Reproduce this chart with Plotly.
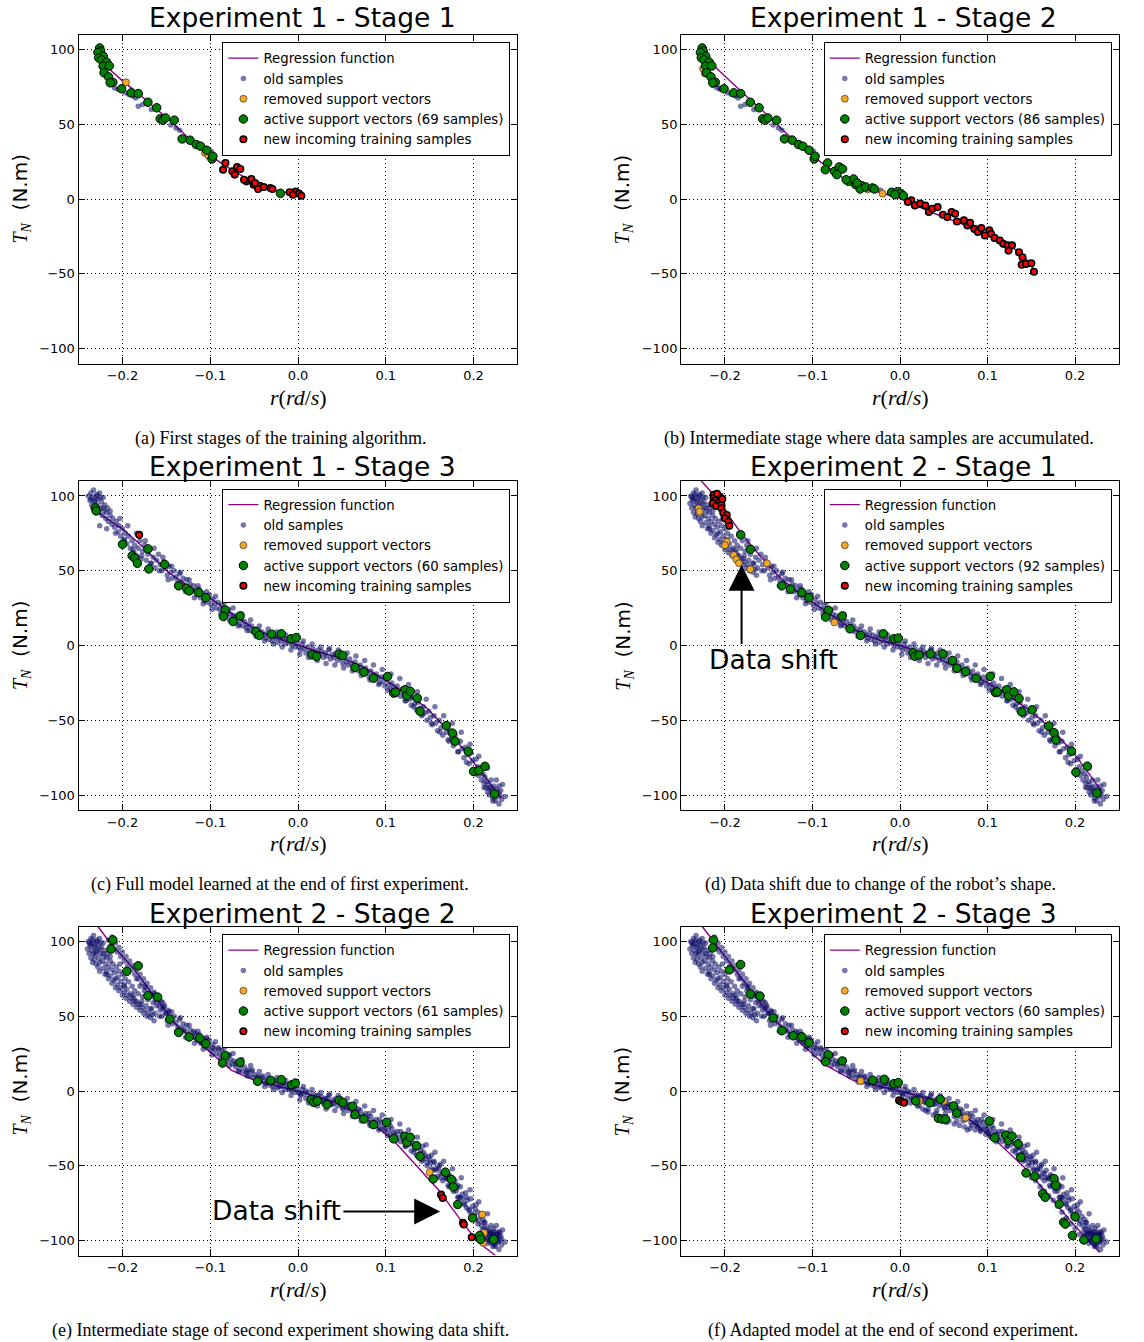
import plotly.graph_objects as go

W, H = 1144, 1342

# ---------------- DATA ----------------
TITLES = ["Experiment 1 - Stage 1", "Experiment 1 - Stage 2", "Experiment 1 - Stage 3",
          "Experiment 2 - Stage 1", "Experiment 2 - Stage 2", "Experiment 2 - Stage 3"]
CAPTIONS = ["(a) First stages of the training algorithm.",
            "(b) Intermediate stage where data samples are accumulated.",
            "(c) Full model learned at the end of first experiment.",
            "(d) Data shift due to change of the robot\u2019s shape.",
            "(e) Intermediate stage of second experiment showing data shift.",
            "(f) Adapted model at the end of second experiment."]
SV_COUNTS = [69, 86, 60, 92, 61, 60]
X_TICKS = [-0.2, -0.1, 0.0, 0.1, 0.2]
Y_TICKS = [-100, -50, 0, 50, 100]

# regression functions
A_LINE_X = [-0.228, -0.215, -0.2, -0.186, -0.165, -0.147, -0.125, -0.101, -0.085, -0.07, -0.055, -0.039, -0.02, 0.003]
A_LINE_Y = [95, 87, 79, 72.5, 62, 53, 41, 29.5, 23, 17.5, 12.5, 8.5, 5, 3]
B_LINE_X = [-0.227, -0.2, -0.178, -0.156, -0.124, -0.096, -0.064, -0.025, 0, 0.035, 0.075, 0.114, 0.13, 0.142, 0.154]
B_LINE_Y = [97, 82, 70, 58.5, 40.6, 27, 13.7, 4.7, 0.5, -8.7, -17.7, -27.8, -33, -38.5, -48]
C_LINE_X = [-0.236, -0.22, -0.2, -0.175, -0.148, -0.12, -0.097, -0.075, -0.051, -0.025, 0, 0.025, 0.055, 0.075,
            0.093, 0.11, 0.131, 0.147, 0.162, 0.175, 0.188, 0.2, 0.207, 0.22, 0.232]
C_LINE_Y = [92, 86, 78, 65, 49, 38, 30.5, 21, 11.6, 5, 0, -4.5, -9.6, -14.5, -20.7, -27, -35, -42, -51, -59.5,
            -69, -78, -84, -93, -102]
D_LINE_X = [-0.227, -0.21, -0.2, -0.19, -0.18, -0.16, -0.14, -0.12, -0.1, -0.08, -0.06, -0.04, -0.02, 0, 0.02,
            0.04, 0.06, 0.08, 0.1, 0.12, 0.14, 0.16, 0.18, 0.2, 0.215, 0.23]
D_LINE_Y = [110, 99, 90, 82, 74, 60, 47, 37, 29, 21, 13, 7, 3, 0, -4, -8, -13, -19, -25, -32, -40, -49, -60,
            -73, -85, -97]
E_LINE_X = [-0.228, -0.214, -0.2, -0.186, -0.161, -0.137, -0.112, -0.076, -0.047, 0, 0.046, 0.083, 0.107, 0.132,
            0.16, 0.185, 0.205, 0.225]
E_LINE_Y = [110, 99, 90, 81, 61, 43, 32, 14, 6.5, 0, -8, -21, -32, -48, -66, -86, -101, -110]
F_LINE_X = [-0.226, -0.213, -0.2, -0.175, -0.148, -0.125, -0.087, -0.053, 0, 0.047, 0.077, 0.111, 0.142, 0.169,
            0.195, 0.228]
F_LINE_Y = [110, 100, 90, 71, 50, 38, 18, 7, 0, -7, -18, -34, -51, -69, -87, -108]

# panel (a)
A_GREEN = [(-0.226, 101), (-0.225, 99), (-0.228, 98), (-0.222, 95.5), (-0.227, 94.4), (-0.224, 93), (-0.218, 91.5),
           (-0.222, 88.8), (-0.215, 89), (-0.221, 84.4), (-0.216, 81.7), (-0.211, 78), (-0.214, 77.7),
           (-0.201, 73.7), (-0.19, 71), (-0.182, 70.5), (-0.171, 64.7), (-0.161, 61), (-0.157, 53.6),
           (-0.154, 52.7), (-0.151, 54.2), (-0.141, 52.7), (-0.132, 40.2), (-0.123, 39.3), (-0.116, 36.4),
           (-0.111, 35.3), (-0.104, 32.6), (-0.098, 26.8), (-0.097, 28.6), (-0.020, 3.8)]
A_RED = [(-0.0827, 24.1), (-0.0854, 19.6), (-0.0748, 18.5), (-0.0694, 21.4), (-0.0657, 20.1), (-0.0721, 16.3),
         (-0.0588, 11.8), (-0.0531, 13.4), (-0.0505, 9.6), (-0.0436, 8.9), (-0.0455, 6.7), (-0.0391, 8.0),
         (-0.0315, 7.4), (-0.0292, 6.7), (-0.0095, 4.5), (-0.0027, 4.9), (0.0011, 3.6), (0.0038, 2.2),
         (-0.0057, 2.9), (-0.0615, 12.9), (-0.049, 10.7)]
A_ORANGE = [(-0.196, 78), (-0.106, 30.8), (-0.102, 29)]
A_OLD = [(-0.209, 74.3), (-0.205, 73.2), (-0.197, 71), (-0.188, 68.8), (-0.182, 62), (-0.177, 63.2),
         (-0.167, 59.8), (-0.139, 47.5), (-0.135, 46), (-0.118, 37.5), (-0.099, 31.9), (-0.193, 70),
         (-0.185, 67.5), (-0.145, 49.5)]

# panel (b)
B_RED = [(0.013, -0.9), (0.009, -2), (0.017, -4.3), (0.023, -3.1), (0.029, -4.3), (0.033, -8.7), (0.037, -6.5),
         (0.043, -5.4), (0.049, -10.5), (0.054, -12.1), (0.059, -8.7), (0.063, -9.9), (0.065, -15),
         (0.073, -14.3), (0.077, -17.7), (0.080, -15.9), (0.085, -20), (0.089, -22), (0.093, -19.5),
         (0.097, -24.4), (0.102, -21), (0.104, -23.3), (0.108, -26), (0.114, -27.8), (0.118, -30),
         (0.123, -31), (0.128, -31), (0.124, -34.5), (0.136, -35.6), (0.140, -39), (0.139, -44),
         (0.144, -43.5), (0.150, -43), (0.153, -48.6)]
B_ORANGE = [(-0.225, 87.3), (-0.223, 84), (-0.213, 76.6), (-0.124, 40), (-0.037, 6.5), (-0.020, 3.6)]
B_OLD_EXTRA = [(-0.053, 9.2), (-0.043, 8), (-0.030, 6.9), (-0.022, 5.8), (-0.007, 4.7), (0.003, 2),
               (-0.012, 4.0), (0.006, 1.2), (-0.206, 74.3), (-0.171, 63.8)]

# panel (c)
C_GREEN = [(-0.231, 92), (-0.230, 90), (-0.2, 67.7), (-0.189, 60), (-0.186, 58.4), (-0.183, 55), (-0.171, 64.6),
           (-0.170, 51.2), (-0.152, 54.3), (-0.136, 39.9), (-0.127, 38.3), (-0.124, 36.5), (-0.113, 35.4),
           (-0.105, 32), (-0.083, 23.8), (-0.085, 19.4), (-0.074, 16), (-0.066, 19.8), (-0.048, 9.4),
           (-0.044, 6.7), (-0.030, 7.6), (-0.019, 7.8), (-0.008, 4.5), (-0.002, 5.3), (0.016, -6.2),
           (0.021, -7.3), (0.047, -5.8), (0.051, -6.7), (0.065, -14.7), (0.075, -17.8), (0.086, -21.8),
           (0.102, -20.7), (0.109, -31.8), (0.111, -31.2), (0.122, -29.6), (0.124, -33.6), (0.128, -30.7),
           (0.136, -35.2), (0.139, -44), (0.169, -53.5), (0.176, -58.6), (0.179, -64), (0.194, -70.8),
           (0.200, -84.2), (0.206, -83.7), (0.213, -80.8), (0.224, -99.3)]
C_RED = [(-0.181, 74)]
C_ORANGE = []

# panel (d)
D_GREEN = [(-0.182, 74), (-0.171, 64.3), (-0.135, 39.9), (-0.125, 37.7), (-0.112, 35.4), (-0.104, 32),
           (-0.082, 23.5), (-0.085, 19), (-0.066, 19.7), (-0.057, 11.2), (-0.045, 6.7), (-0.019, 7.8),
           (-0.007, 4.5), (-0.002, 4.9), (0.015, -4.9), (0.017, -7.2), (0.022, -6.3), (0.035, -5.6),
           (0.049, -5.6), (0.060, -10), (0.065, -15.2), (0.075, -17.5), (0.087, -22), (0.103, -20.6),
           (0.109, -31.4), (0.111, -31), (0.122, -29.6), (0.124, -33.6), (0.130, -31), (0.136, -35.4),
           (0.139, -44.4), (0.151, -43), (0.170, -53.8), (0.176, -58.3), (0.178, -63.2), (0.196, -70.6),
           (0.201, -84.8), (0.214, -80.7), (0.225, -98.7)]
D_ORANGE = [(-0.230, 91.7), (-0.229, 89.5), (-0.198, 69.4), (-0.200, 67), (-0.190, 60.5), (-0.187, 57.6),
            (-0.184, 55), (-0.171, 51), (-0.152, 55), (-0.075, 15.5)]
D_RED = [(-0.213, 100.7), (-0.206, 99.6), (-0.208, 99.5), (-0.213, 98.4), (-0.211, 96.9), (-0.214, 95),
         (-0.206, 96.2), (-0.210, 93.3), (-0.204, 94), (-0.204, 91.7), (-0.202, 88.8), (-0.198, 87.3),
         (-0.200, 85), (-0.196, 82.8), (-0.195, 80), (-0.209, 101.5), (-0.203, 98)]

# panel (e)
E_GREEN = [(-0.211, 101), (-0.213, 94.9), (-0.195, 80), (-0.182, 83.7), (-0.171, 63.7), (-0.160, 62.8),
           (-0.146, 48.1), (-0.136, 39.2), (-0.124, 36.1), (-0.112, 35.4), (-0.105, 31.6), (-0.083, 23.8),
           (-0.086, 18.7), (-0.066, 19.2), (-0.046, 6.5), (-0.031, 7.1), (-0.019, 7.6), (-0.007, 4.2),
           (-0.003, 5.3), (0.015, -5.8), (0.018, -7.6), (0.022, -6.7), (0.033, -9.1), (0.047, -6.2),
           (0.051, -7.6), (0.062, -10.2), (0.065, -15.8), (0.075, -18.7), (0.086, -22.5), (0.101, -20.9),
           (0.109, -32), (0.122, -30.3), (0.124, -34.3), (0.128, -31), (0.135, -36.5), (0.139, -43.7),
           (0.154, -58.8), (0.168, -54.3), (0.175, -59.2), (0.177, -64.1), (0.182, -75.9), (0.199, -84.9),
           (0.207, -96.7), (0.208, -99.3), (0.223, -99.3)]
E_ORANGE = [(0.150, -54.3), (0.210, -82.6), (0.212, -94.9), (0.210, -100.4), (0.211, -101.6)]
E_RED = [(0.163, -69.3), (0.165, -71.5), (0.188, -88.2), (0.189, -89.3), (0.198, -97.8)]

# panel (f)
F_GREEN = [(-0.213, 101), (-0.214, 95.7), (-0.195, 81), (-0.182, 84.6), (-0.171, 64.9), (-0.160, 63.5),
           (-0.145, 48.8), (-0.135, 40.3), (-0.122, 36.9), (-0.112, 36.2), (-0.104, 32.2), (-0.082, 24.2),
           (-0.085, 19.5), (-0.066, 20.1), (-0.031, 7.2), (-0.018, 7.8), (-0.007, 4.9), (-0.002, 5.6),
           (0.018, -6.7), (0.034, -7.8), (0.046, -5.6), (0.044, -18.3), (0.048, -18.8), (0.052, -18.8),
           (0.061, -10), (0.065, -14.8), (0.102, -20.1), (0.108, -31.3), (0.121, -29.5), (0.124, -33.1),
           (0.128, -30.2), (0.135, -35.3), (0.138, -44.3), (0.144, -54.8), (0.154, -57), (0.163, -68.7),
           (0.166, -71.1), (0.176, -58.6), (0.178, -63.1), (0.182, -75.6), (0.187, -87.7), (0.189, -89),
           (0.200, -84.1), (0.197, -96.6), (0.210, -99.6), (0.224, -98.9)]
F_ORANGE = [(-0.045, 6.7), (0.022, -6.7), (0.050, -6.7), (0.075, -17.9)]
F_RED = [(-0.001, -6.3), (0.0015, -7.2), (0.0046, -7.8)]

# old samples of experiment 1 (full run): core of the band
E1_OLD = [
    (-0.239, 100), (-0.237, 97), (-0.236, 102), (-0.235, 94), (-0.234, 99), (-0.233, 104), (-0.232, 96),
    (-0.231, 91), (-0.230, 100), (-0.229, 94), (-0.228, 98), (-0.227, 89), (-0.226, 102), (-0.225, 92),
    (-0.224, 96), (-0.223, 87), (-0.222, 99), (-0.221, 90), (-0.220, 94), (-0.219, 85), (-0.218, 89),
    (-0.217, 92), (-0.216, 83), (-0.233, 92), (-0.229, 101), (-0.225, 99), (-0.236, 98), (-0.231, 97),
    (-0.214, 87), (-0.212, 81), (-0.211, 85), (-0.209, 79), (-0.207, 83), (-0.205, 76), (-0.204, 80),
    (-0.202, 73), (-0.200, 78), (-0.198, 71), (-0.197, 75), (-0.195, 68), (-0.193, 73), (-0.191, 65),
    (-0.189, 70), (-0.187, 62), (-0.186, 67), (-0.184, 60), (-0.182, 65), (-0.180, 70), (-0.179, 58),
    (-0.177, 63), (-0.175, 67), (-0.173, 57), (-0.171, 61), (-0.169, 64), (-0.167, 55), (-0.165, 59),
    (-0.163, 52), (-0.161, 57), (-0.159, 61), (-0.157, 54), (-0.155, 50), (-0.153, 56), (-0.151, 52),
    (-0.149, 47), (-0.147, 53), (-0.145, 49), (-0.143, 45), (-0.141, 50),
    (-0.139, 46), (-0.137, 43), (-0.135, 48), (-0.133, 42), (-0.131, 45), (-0.129, 40), (-0.127, 44),
    (-0.125, 38), (-0.123, 41), (-0.121, 36), (-0.119, 40), (-0.117, 37), (-0.115, 34), (-0.113, 38),
    (-0.111, 32), (-0.109, 35), (-0.107, 30), (-0.105, 33), (-0.103, 29), (-0.101, 34), (-0.099, 27),
    (-0.097, 31), (-0.095, 28), (-0.093, 25), (-0.091, 29), (-0.089, 24), (-0.087, 27), (-0.085, 22),
    (-0.083, 25), (-0.081, 20), (-0.079, 24),
    (-0.077, 21), (-0.075, 18), (-0.073, 20), (-0.071, 16), (-0.069, 19), (-0.067, 14), (-0.065, 17),
    (-0.063, 13), (-0.061, 16), (-0.059, 12), (-0.057, 14), (-0.055, 10), (-0.053, 13), (-0.051, 9),
    (-0.049, 11), (-0.047, 7), (-0.045, 10), (-0.043, 6), (-0.041, 9), (-0.039, 7), (-0.037, 5),
    (-0.035, 8), (-0.033, 4), (-0.031, 7), (-0.029, 3), (-0.027, 6), (-0.025, 5), (-0.023, 2),
    (-0.021, 6), (-0.019, 3), (-0.017, 5), (-0.015, 1), (-0.013, 4), (-0.011, 2), (-0.009, 5),
    (-0.007, 0), (-0.005, 3), (-0.003, -1), (-0.001, 2),
    (0.001, -1), (0.003, -3), (0.005, 1), (0.007, -2), (0.009, -5), (0.011, -1), (0.013, -4), (0.015, -6),
    (0.017, -2), (0.019, -5), (0.021, -7), (0.023, -3), (0.025, -6), (0.027, -4), (0.029, -8), (0.031, -5),
    (0.033, -7), (0.035, -3), (0.037, -9), (0.039, -6), (0.041, -8), (0.043, -5), (0.045, -10),
    (0.047, -7), (0.049, -9), (0.051, -12), (0.053, -8), (0.055, -11), (0.057, -13), (0.059, -9),
    (0.061, -12), (0.063, -15), (0.065, -11), (0.067, -14), (0.069, -17), (0.071, -13), (0.073, -16),
    (0.075, -19), (0.077, -15), (0.079, -18), (0.081, -21), (0.083, -17), (0.085, -20), (0.087, -23),
    (0.089, -19), (0.091, -22), (0.093, -25), (0.095, -21), (0.097, -24), (0.099, -27),
    (0.101, -22), (0.103, -26), (0.105, -29), (0.107, -25), (0.109, -28), (0.111, -32), (0.113, -27),
    (0.115, -31), (0.117, -34), (0.119, -29), (0.121, -33), (0.123, -37), (0.125, -32), (0.127, -36),
    (0.129, -40), (0.131, -35), (0.133, -39), (0.135, -43), (0.137, -38), (0.139, -42), (0.141, -47),
    (0.143, -41), (0.145, -45), (0.147, -50), (0.149, -44), (0.151, -48), (0.153, -53), (0.155, -47),
    (0.157, -52), (0.159, -57), (0.161, -50), (0.163, -55), (0.165, -60), (0.167, -53), (0.169, -58),
    (0.171, -63), (0.173, -57), (0.175, -62), (0.177, -67), (0.179, -60), (0.181, -65), (0.183, -71),
    (0.185, -64), (0.187, -69), (0.189, -75), (0.191, -68), (0.193, -73), (0.195, -79), (0.197, -72),
    (0.199, -77),
    (0.201, -83), (0.203, -76), (0.205, -81), (0.206, -87), (0.208, -84), (0.209, -90), (0.211, -86),
    (0.212, -92), (0.213, -88), (0.214, -95), (0.215, -91), (0.216, -98), (0.217, -93), (0.218, -100),
    (0.219, -95), (0.220, -90), (0.221, -97), (0.222, -102), (0.223, -94), (0.224, -99), (0.225, -104),
    (0.226, -96), (0.227, -101), (0.228, -98), (0.229, -94), (0.230, -100), (0.231, -97), (0.232, -103),
    (0.218, -96), (0.222, -99)]
# old samples of experiment 1: outer edges of the band
E1_OLD_WIDE = [
    (-0.226, 80), (-0.222, 92), (-0.218, 78), (-0.214, 90), (-0.208, 75), (-0.203, 85), (-0.198, 70),
    (-0.194, 80), (-0.188, 64), (-0.184, 75), (-0.178, 60), (-0.174, 70), (-0.168, 55), (-0.164, 65),
    (-0.158, 50), (-0.154, 59), (-0.148, 44), (-0.144, 53), (-0.138, 40), (-0.134, 49), (-0.128, 36),
    (-0.124, 44), (-0.118, 32), (-0.114, 40), (-0.108, 28), (-0.104, 36), (-0.098, 24), (-0.094, 33),
    (-0.088, 21), (-0.084, 29), (-0.078, 17), (-0.074, 25), (-0.068, 13), (-0.064, 21), (-0.058, 10),
    (-0.054, 17), (-0.048, 6), (-0.044, 13), (-0.038, 3), (-0.034, 11), (-0.028, 1), (-0.024, 9),
    (-0.018, -1), (-0.014, 7), (-0.008, -3), (-0.004, 5), (0.002, -6), (0.006, 3), (0.012, -8), (0.016, 1),
    (0.022, -10), (0.026, -1), (0.032, -12), (0.036, -2), (0.042, -13), (0.046, -3), (0.052, -15),
    (0.056, -5), (0.062, -17), (0.066, -7), (0.072, -20), (0.076, -10), (0.082, -23), (0.086, -13),
    (0.092, -26), (0.096, -16), (0.102, -30), (0.106, -19), (0.112, -33), (0.116, -22), (0.122, -37),
    (0.126, -26), (0.132, -41), (0.136, -31), (0.142, -46), (0.146, -36), (0.152, -52), (0.156, -41),
    (0.162, -58), (0.166, -47), (0.172, -64), (0.176, -52), (0.182, -71), (0.186, -58), (0.192, -78),
    (0.196, -66), (0.202, -86), (0.206, -74), (0.212, -95), (0.216, -82), (0.222, -104), (0.226, -90),
    (0.229, -106), (0.233, -93), (0.236, -101)]

# experiment 2 samples: lower branch at top-left
X2_LOW = [(-0.222, 82), (-0.220, 78), (-0.218, 80), (-0.216, 75), (-0.214, 77), (-0.212, 72), (-0.210, 74),
          (-0.208, 69), (-0.206, 71), (-0.204, 67), (-0.202, 69), (-0.200, 64), (-0.198, 66), (-0.196, 62),
          (-0.194, 64), (-0.192, 60), (-0.190, 62), (-0.188, 58), (-0.186, 60), (-0.184, 56), (-0.182, 58),
          (-0.180, 54), (-0.178, 56), (-0.176, 52), (-0.174, 54), (-0.172, 50), (-0.170, 52), (-0.168, 49),
          (-0.166, 51), (-0.164, 47),
          (-0.240, 95), (-0.238, 92), (-0.236, 89), (-0.234, 86), (-0.232, 88), (-0.230, 85), (-0.228, 83),
          (-0.226, 86), (-0.238, 99), (-0.234, 101), (-0.230, 93), (-0.226, 95)]
# experiment 2 samples: upper (shifted) branch at top-left
X2_UP = [(-0.216, 101), (-0.214, 97), (-0.212, 103), (-0.210, 95), (-0.208, 99), (-0.206, 93), (-0.204, 96),
         (-0.202, 90), (-0.200, 93), (-0.198, 87), (-0.196, 90), (-0.194, 84), (-0.192, 87), (-0.190, 81),
         (-0.188, 84), (-0.186, 78), (-0.184, 81), (-0.182, 75), (-0.180, 78), (-0.178, 72), (-0.176, 75),
         (-0.174, 69), (-0.172, 72), (-0.170, 66), (-0.168, 69), (-0.166, 63), (-0.164, 66), (-0.162, 60),
         (-0.160, 63), (-0.158, 57), (-0.156, 60), (-0.154, 55), (-0.152, 57), (-0.150, 52), (-0.148, 54),
         (-0.146, 49)]
# experiment 2 samples: along the middle and the bottom-right
X2_MAIN = [(-0.13, 41), (-0.125, 37), (-0.118, 39), (-0.11, 33), (-0.104, 35), (-0.097, 29), (-0.09, 28),
           (-0.084, 23), (-0.078, 24), (-0.071, 18), (-0.065, 19), (-0.058, 13), (-0.052, 14), (-0.046, 9),
           (-0.04, 10), (-0.034, 6), (-0.028, 7), (-0.022, 3), (-0.016, 5), (-0.01, 1), (-0.004, 3),
           (0.003, -2), (0.009, 0), (0.015, -5), (0.021, -3), (0.027, -7), (0.033, -5), (0.039, -9),
           (0.045, -7), (0.051, -11), (0.057, -9), (0.063, -14), (0.069, -12), (0.075, -17), (0.081, -15),
           (0.087, -21), (0.093, -19), (0.099, -25), (0.105, -23), (0.111, -29), (0.117, -27), (0.123, -33),
           (0.129, -31), (0.135, -38),
           (0.140, -40), (0.145, -43), (0.150, -46), (0.155, -48), (0.160, -52), (0.165, -55), (0.170, -59),
           (0.175, -63), (0.180, -67), (0.185, -71), (0.190, -76), (0.195, -80), (0.200, -85), (0.205, -89),
           (0.210, -93), (0.215, -95), (0.220, -98), (0.225, -100), (0.228, -96), (0.142, -37), (0.152, -43),
           (0.162, -49), (0.172, -56), (0.182, -63), (0.192, -71), (0.202, -79), (0.212, -88), (0.222, -95),
           (0.147, -48), (0.157, -53), (0.167, -58), (0.177, -65), (0.187, -72), (0.197, -82),
           (0.210, -97), (0.212, -100), (0.214, -96), (0.216, -102), (0.218, -94), (0.220, -99),
           (0.222, -96), (0.224, -103), (0.226, -98), (0.228, -101), (0.230, -95), (0.232, -99),
           (0.215, -99), (0.219, -101), (0.223, -92), (0.227, -95)]
# experiment 2 late samples (only in the last stage)
X3_OLD = [(0.020, -10), (0.026, -12), (0.032, -14), (0.038, -16), (0.044, -18), (0.050, -19), (0.056, -20),
          (0.062, -22), (0.068, -23), (0.074, -24), (0.080, -25), (0.086, -26), (0.092, -27), (0.098, -29),
          (0.104, -31), (0.110, -34), (0.029, -13), (0.041, -15), (0.053, -21), (0.065, -20), (0.077, -26),
          (0.089, -24), (0.101, -28),
          (0.150, -58), (0.160, -64), (0.170, -70), (0.180, -77), (0.190, -85), (0.200, -92), (0.210, -100),
          (0.155, -60), (0.165, -67), (0.175, -73), (0.185, -81), (0.195, -89), (0.205, -96)]

E1_ALL = E1_OLD + E1_OLD_WIDE
PANELS = [
    dict(line=(A_LINE_X, A_LINE_Y), old=A_OLD, orange=A_ORANGE, green=A_GREEN, red=A_RED),
    dict(line=(B_LINE_X, B_LINE_Y), old=A_OLD + B_OLD_EXTRA, orange=B_ORANGE,
         green=A_GREEN[:-1] + A_RED, red=B_RED),
    dict(line=(C_LINE_X, C_LINE_Y), old=E1_ALL, orange=C_ORANGE, green=C_GREEN, red=C_RED),
    dict(line=(D_LINE_X, D_LINE_Y), old=E1_ALL + X2_LOW, orange=D_ORANGE, green=D_GREEN, red=D_RED),
    dict(line=(E_LINE_X, E_LINE_Y), old=E1_ALL + X2_LOW + X2_UP + X2_MAIN, orange=E_ORANGE,
         green=E_GREEN, red=E_RED),
    dict(line=(F_LINE_X, F_LINE_Y), old=E1_ALL + X2_LOW + X2_UP + X2_MAIN + X3_OLD, orange=F_ORANGE,
         green=F_GREEN, red=F_RED),
]

# ---------------- LAYOUT GEOMETRY (page pixels) ----------------
COLS = [(78.6, 517.4), (681.2, 1118.8)]
ROWS = [(34.5, 363.5), (481.0, 810.0), (926.5, 1255.5)]
TITLE_Y = [18, 466, 913]
TITLE_X = [302, 903]
CAPTION_Y = [438, 884, 1330]
CAPTION_X = [280, 879, 280, 880, 280, 893]

SANS = "DejaVu Sans"
SERIF = "Liberation Serif"


def px_x(p):
    return p / W


def px_y(p):
    return 1 - p / H


def xy(points):
    if not points:
        return [None], [None]
    return [p[0] for p in points], [p[1] for p in points]


fig = go.Figure()
annotations = []
layout = {}

for i, pan in enumerate(PANELS):
    r, c = divmod(i, 2)
    n = "" if i == 0 else str(i + 1)
    xa, ya = "x" + n, "y" + n
    leg = "legend" + n
    (x0, x1), (y0, y1) = COLS[c], ROWS[r]

    lx, ly = pan["line"]
    fig.add_trace(go.Scatter(x=lx, y=ly, mode="lines", name="Regression function",
                             line=dict(color="#8b008b", width=1.4), xaxis=xa, yaxis=ya, legend=leg))
    ox, oy = xy(pan["old"])
    fig.add_trace(go.Scatter(x=ox, y=oy, mode="markers", name="old samples",
                             marker=dict(size=5.5, color="rgba(10,10,100,0.55)", line=dict(width=0)),
                             xaxis=xa, yaxis=ya, legend=leg))
    rx, ry = xy(pan["orange"])
    fig.add_trace(go.Scatter(x=rx, y=ry, mode="markers", name="removed support vectors",
                             marker=dict(size=7, color="#f5a623", line=dict(width=0.7, color="#333333")),
                             xaxis=xa, yaxis=ya, legend=leg))
    gx, gy = xy(pan["green"])
    fig.add_trace(go.Scatter(x=gx, y=gy, mode="markers",
                             name="active support vectors (%d samples)" % SV_COUNTS[i],
                             marker=dict(size=8.5, color="#008000", line=dict(width=1, color="black")),
                             xaxis=xa, yaxis=ya, legend=leg))
    nx, ny = xy(pan["red"])
    fig.add_trace(go.Scatter(x=nx, y=ny, mode="markers", name="new incoming training samples",
                             marker=dict(size=6.5, color="#ff0000", line=dict(width=1.6, color="black")),
                             xaxis=xa, yaxis=ya, legend=leg))

    common = dict(showgrid=True, gridcolor="black", griddash="1px,3px", gridwidth=1,
                  showline=True, linecolor="black", linewidth=1.3, mirror="ticks",
                  ticks="inside", ticklen=6, tickcolor="black", tickwidth=1,
                  zeroline=False, tickfont=dict(family=SANS, size=13, color="black"),
                  fixedrange=True)
    layout["xaxis" + n] = dict(domain=[px_x(x0), px_x(x1)], range=[-0.25, 0.25], anchor=ya,
                               tickvals=X_TICKS, tickformat=".1f", **common)
    layout["yaxis" + n] = dict(domain=[px_y(y1), px_y(y0)], range=[-110, 110], anchor=xa,
                               tickvals=Y_TICKS, **common)
    layout[leg] = dict(x=px_x(x1 - 7), xanchor="right", y=px_y(y0 + 7.5), yanchor="top",
                       bgcolor="white", bordercolor="black", borderwidth=1,
                       font=dict(family=SANS, size=13.3, color="black"), tracegroupgap=0)

    annotations.append(dict(text=TITLES[i], x=px_x(TITLE_X[c]), y=px_y(TITLE_Y[r]), xref="paper",
                            yref="paper", showarrow=False, xanchor="center", yanchor="middle",
                            font=dict(family=SANS, size=26.5, color="black")))
    annotations.append(dict(text="<i>r</i>(<i>rd</i>/<i>s</i>)", x=px_x((x0 + x1) / 2),
                            y=px_y(y1 + 33.5), xref="paper", yref="paper", showarrow=False,
                            xanchor="center", yanchor="middle",
                            font=dict(family=SERIF, size=22, color="black")))
    annotations.append(dict(text='<span style="font-family:Liberation Serif"><i>T</i><sub><i>N</i></sub></span>'
                                 '&nbsp;&nbsp;(N.m)',
                            x=px_x(x0 - 58), y=px_y((y0 + y1) / 2), xref="paper", yref="paper",
                            showarrow=False, textangle=-90, xanchor="center", yanchor="middle",
                            font=dict(family=SANS, size=20, color="black")))
    annotations.append(dict(text=CAPTIONS[i], x=px_x(CAPTION_X[i]), y=px_y(CAPTION_Y[r]), xref="paper",
                            yref="paper", showarrow=False, xanchor="center", yanchor="middle",
                            font=dict(family=SERIF, size=18, color="black")))

# "Data shift" markers
annotations.append(dict(text="Data shift", x=-0.145, y=-9.5, xref="x4", yref="y4", showarrow=False,
                        font=dict(family=SANS, size=26.5, color="black")))
annotations.append(dict(text="", x=-0.181, y=54, xref="x4", yref="y4", ax=-0.181, ay=0,
                        axref="x4", ayref="y4", showarrow=True, arrowhead=2, arrowsize=2.6,
                        arrowwidth=2, arrowcolor="black", standoff=0))
annotations.append(dict(text="Data shift", x=-0.025, y=-79.6, xref="x5", yref="y5", showarrow=False,
                        font=dict(family=SANS, size=26.5, color="black")))
annotations.append(dict(text="", x=0.162, y=-80.5, xref="x5", yref="y5", ax=0.050, ay=-80.5,
                        axref="x5", ayref="y5", showarrow=True, arrowhead=2, arrowsize=2.6,
                        arrowwidth=2, arrowcolor="black", standoff=0))

fig.update_layout(width=W, height=H, margin=dict(l=0, r=0, t=0, b=0),
                  paper_bgcolor="white", plot_bgcolor="white", showlegend=True,
                  annotations=annotations, **layout)

# remove the default 8px body margin so the figure fills the window exactly
fig.write_html("out.html", config={"displayModeBar": False},
               post_script="document.body.style.margin='0px';")
